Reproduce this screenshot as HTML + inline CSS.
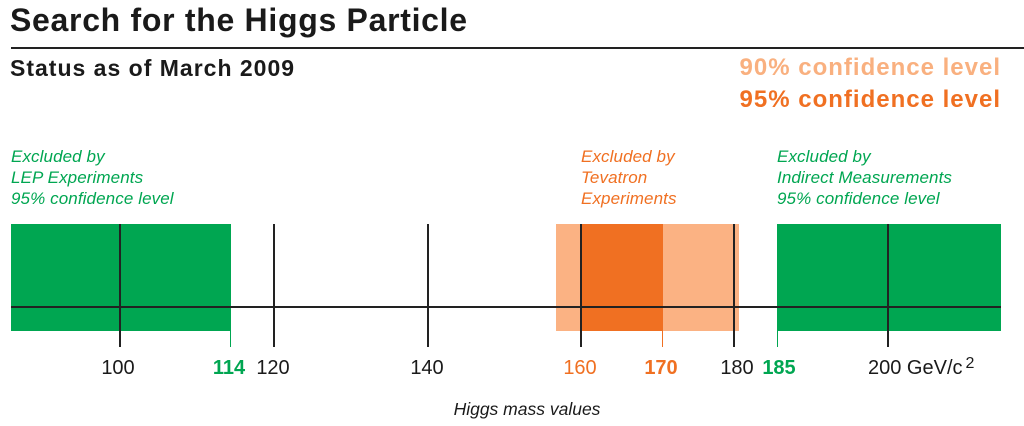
<!DOCTYPE html>
<html><head><style>
body{margin:0;width:1024px;height:426px;background:#fff;position:relative;overflow:hidden;font-family:"Liberation Sans",Arial,sans-serif}
.a{position:absolute;white-space:nowrap}
.r{position:absolute}
.lab{font-style:italic;font-size:17px;line-height:21px;letter-spacing:0.1px}
.t{font-size:20px;top:357px;transform:translateX(-50%)}
</style></head><body>
<div class="a" style="left:10px;top:2px;font-size:32px;font-weight:bold;color:#1a1a1a;letter-spacing:0.7px">Search for the Higgs Particle</div>
<div class="r" style="left:11px;top:47px;width:1013px;height:2px;background:#222"></div>
<div class="a" style="left:10px;top:55px;font-size:23px;font-weight:bold;color:#1a1a1a;letter-spacing:1px">Status as of March 2009</div>
<div class="a" style="right:23px;top:54px;font-size:24px;font-weight:bold;color:#f9b07f;letter-spacing:1px">90% confidence level</div>
<div class="a" style="right:23px;top:86px;font-size:24px;font-weight:bold;color:#f07022;letter-spacing:1px">95% confidence level</div>
<div class="a lab" style="left:11px;top:146px;color:#00a651">Excluded by<br>LEP Experiments<br>95% confidence level</div>
<div class="a lab" style="left:581px;top:146px;color:#f07022">Excluded by<br>Tevatron<br>Experiments</div>
<div class="a lab" style="left:777px;top:146px;color:#00a651">Excluded by<br>Indirect Measurements<br>95% confidence level</div>
<div class="r" style="left:11px;top:224px;width:220px;height:107px;background:#00a651"></div>
<div class="r" style="left:556px;top:224px;width:183px;height:107px;background:#fbb283"></div>
<div class="r" style="left:581px;top:224px;width:82px;height:107px;background:#f07022"></div>
<div class="r" style="left:777px;top:224px;width:224px;height:107px;background:#00a651"></div>
<div class="r" style="left:11px;top:306px;width:990px;height:2px;background:#222"></div>
<div class="r" style="left:119px;top:224px;width:2px;height:123px;background:#222"></div>
<div class="r" style="left:273px;top:224px;width:2px;height:123px;background:#222"></div>
<div class="r" style="left:427px;top:224px;width:2px;height:123px;background:#222"></div>
<div class="r" style="left:580px;top:224px;width:2px;height:123px;background:#222"></div>
<div class="r" style="left:733px;top:224px;width:2px;height:123px;background:#222"></div>
<div class="r" style="left:887px;top:224px;width:2px;height:123px;background:#222"></div>
<div class="r" style="left:230px;top:331px;width:1px;height:16px;background:#00a651"></div>
<div class="r" style="left:662px;top:331px;width:1px;height:16px;background:#f07022"></div>
<div class="r" style="left:777px;top:331px;width:1px;height:16px;background:#00a651"></div>
<div class="a t" style="left:118px;color:#1a1a1a">100</div>
<div class="a t" style="left:229px;color:#00a651;font-weight:bold">114</div>
<div class="a t" style="left:273px;color:#1a1a1a">120</div>
<div class="a t" style="left:427px;color:#1a1a1a">140</div>
<div class="a t" style="left:580px;color:#f07022">160</div>
<div class="a t" style="left:661px;color:#f07022;font-weight:bold">170</div>
<div class="a t" style="left:737px;color:#1a1a1a">180</div>
<div class="a t" style="left:779px;color:#00a651;font-weight:bold">185</div>
<div class="a" style="left:868px;top:357px;font-size:20px;color:#1a1a1a">200 GeV/c<span style="font-size:16px;position:relative;top:-6px;margin-left:3px">2</span></div>
<div class="a" style="left:527px;top:399px;transform:translateX(-50%);font-size:17.5px;font-style:italic;color:#1a1a1a">Higgs mass values</div>
</body></html>
